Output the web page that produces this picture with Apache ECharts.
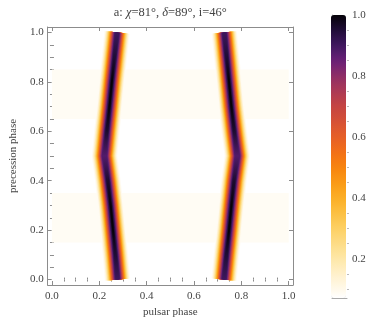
<!DOCTYPE html>
<html>
<head>
<meta charset="utf-8">
<script src="https://cdn.jsdelivr.net/npm/echarts@6/dist/echarts.min.js"></script>
<style>
  html, body {margin: 0; padding: 0; background: #fff;}
  #chart {width: 374px; height: 327px;}
</style>
</head>
<body>
<div id="chart"></div>
<script>
// ridge centres (pulsar phase), per precession phase
const precessionPhase = [0, 0.1, 0.2, 0.3, 0.4, 0.5, 0.6, 0.7, 0.8, 0.9, 1.0];
const ridgeLeft = [0.277, 0.268, 0.258, 0.248, 0.236, 0.222, 0.232, 0.243, 0.253, 0.264, 0.275];
const ridgeRight = [0.727, 0.737, 0.748, 0.758, 0.769, 0.783, 0.770, 0.758, 0.748, 0.738, 0.728];
const ridgePeak = [0.9, 0.95, 1.0, 1.0, 0.96, 0.88, 0.96, 1.0, 1.0, 0.95, 0.9];
// faint background bands (precession phase ranges)
const paleBands = [[0.15, 0.35], [0.65, 0.85]];

const majorTicks = [0, 0.2, 0.4, 0.6, 0.8, 1.0];
const minorTicks = [0.05, 0.1, 0.15, 0.25, 0.3, 0.35, 0.45, 0.5, 0.55, 0.65, 0.7, 0.75, 0.85, 0.9, 0.95];
const colorbarTicks = [0.2, 0.4, 0.6, 0.8, 1.0];
const colorbarMinor = [0.1, 0.15, 0.25, 0.3, 0.35, 0.45, 0.5, 0.55, 0.65, 0.7, 0.75, 0.85, 0.9, 0.95];
const colorMin = 0.072;
const colorMax = 1.0;

const COLOR_STOPS = [
  [0.072, "#ffffff"], [0.1, "#fff9ea"], [0.15, "#fff1cc"], [0.2, "#fee8a8"],
  [0.25, "#fddc86"], [0.3, "#fdd064"], [0.35, "#fcc043"], [0.4, "#fbaf26"],
  [0.45, "#fa9a16"], [0.5, "#f8840f"], [0.55, "#f27018"], [0.6, "#e65f27"],
  [0.65, "#d65236"], [0.7, "#c54542"], [0.75, "#ac3a55"], [0.8, "#8f2e66"],
  [0.85, "#6a2078"], [0.9, "#401860"], [0.95, "#200d38"], [1.0, "#050208"],
];

function hexToRgb(h) {
  return [parseInt(h.slice(1, 3), 16), parseInt(h.slice(3, 5), 16), parseInt(h.slice(5, 7), 16)];
}

function colorAt(v) {
  if (v <= COLOR_STOPS[0][0]) {return COLOR_STOPS[0][1];}
  for (let i = 1; i < COLOR_STOPS.length; i++) {
    if (v <= COLOR_STOPS[i][0]) {
      const [v0, c0] = COLOR_STOPS[i - 1];
      const [v1, c1] = COLOR_STOPS[i];
      const t = (v - v0) / (v1 - v0);
      const a = hexToRgb(c0), b = hexToRgb(c1);
      const rgb = a.map((x, k) => Math.round(x + (b[k] - x) * t));
      return `rgb(${rgb.join(",")})`;
    }
  }
  return COLOR_STOPS[COLOR_STOPS.length - 1][1];
}

const FONT = "Liberation Serif";
const TEXT_COLOR = "#444";
const FRAME_COLOR = "#8c8c8c";
const SIGMA_PX = 5.8;

// ridges are drawn as stacked lines, widest/palest first
function ridgeLayers(centres) {
  const points = precessionPhase.map((y, i) => [centres[i], y]);
  const layers = [];
  for (let v = 0.09; v < 0.985; v += 0.04) {
    const width = 2 * SIGMA_PX * Math.sqrt(2 * Math.log(1 / v));
    let color = colorAt(v);
    if (v > 0.83) {
      color = new echarts.graphic.LinearGradient(0, 0, 0, 1,
        precessionPhase.map((y, i) => ({offset: 1 - y, color: colorAt(Math.min(v, ridgePeak[i]))})).reverse());
    }
    layers.push({width, color});
  }
  layers.push({
    width: 1.8,
    color: new echarts.graphic.LinearGradient(0, 0, 0, 1,
      precessionPhase.map((y, i) => ({offset: 1 - y, color: colorAt(ridgePeak[i])})).reverse()),
  });
  return layers.map(layer => ({
    type: "line",
    xAxisIndex: 0,
    yAxisIndex: 0,
    data: points,
    showSymbol: false,
    silent: true,
    animation: false,
    z: 3,
    lineStyle: {width: layer.width, color: layer.color, cap: "butt", join: "round"},
  }));
}

function tickAxis(extra) {
  return Object.assign({
    type: "value",
    gridIndex: 0,
    splitLine: {show: false},
    axisLine: {show: false},
    axisLabel: {show: false},
  }, extra);
}

const labelStyle = {fontFamily: FONT, fontSize: 11, color: TEXT_COLOR};
const xRange = {min: -0.0182, max: 1.0182};
const yRange = {min: -0.022, max: 1.022};

const xAxes = [
  tickAxis(Object.assign({
    position: "bottom",
    name: "pulsar phase",
    nameLocation: "middle",
    nameGap: 20,
    nameTextStyle: Object.assign({}, labelStyle),
    axisLine: {show: true, onZero: false, lineStyle: {color: FRAME_COLOR, width: 1}},
    axisTick: {inside: true, length: 4, customValues: majorTicks, lineStyle: {color: FRAME_COLOR}},
    axisLabel: Object.assign({show: true, margin: 6, customValues: majorTicks, formatter: v => v.toFixed(1)}, labelStyle),
  }, xRange)),
  tickAxis(Object.assign({position: "bottom",
    axisTick: {inside: true, length: 2, customValues: minorTicks, lineStyle: {color: FRAME_COLOR}}}, xRange)),
  tickAxis(Object.assign({
    position: "top",
    name: "a: {i|\u03c7}=81\u00b0, {i|\u03b4}=89\u00b0, i=46\u00b0",
    nameLocation: "middle",
    nameGap: 8,
    nameTextStyle: Object.assign({}, labelStyle, {fontSize: 12.5, rich: {i: Object.assign({}, labelStyle, {fontSize: 12.5, fontStyle: "italic"})}}),
    axisLine: {show: true, onZero: false, lineStyle: {color: FRAME_COLOR, width: 1}},
    axisTick: {inside: true, length: 4, customValues: majorTicks, lineStyle: {color: FRAME_COLOR}},
  }, xRange)),
  tickAxis(Object.assign({position: "top",
    axisTick: {inside: true, length: 2, customValues: minorTicks, lineStyle: {color: FRAME_COLOR}}}, xRange)),
  {
    type: "value", gridIndex: 1, min: 0, max: 1,
    splitLine: {show: false}, axisTick: {show: false}, axisLabel: {show: false},
    axisLine: {show: true, lineStyle: {color: "#aaa", width: 1}},
  },
];

const yAxes = [
  tickAxis(Object.assign({
    position: "left",
    name: "precession phase",
    nameLocation: "middle",
    nameGap: 18,
    nameTextStyle: Object.assign({}, labelStyle),
    axisLine: {show: true, onZero: false, lineStyle: {color: FRAME_COLOR, width: 1}},
    axisTick: {inside: true, length: 4, customValues: majorTicks, lineStyle: {color: FRAME_COLOR}},
    axisLabel: Object.assign({show: true, margin: 4, customValues: majorTicks, formatter: v => v.toFixed(1)}, labelStyle),
  }, yRange)),
  tickAxis(Object.assign({position: "left",
    axisTick: {inside: true, length: 2, customValues: minorTicks, lineStyle: {color: FRAME_COLOR}}}, yRange)),
  tickAxis(Object.assign({
    position: "right",
    axisLine: {show: true, onZero: false, lineStyle: {color: FRAME_COLOR, width: 1}},
    axisTick: {inside: true, length: 4, customValues: majorTicks, lineStyle: {color: FRAME_COLOR}},
  }, yRange)),
  tickAxis(Object.assign({position: "right",
    axisTick: {inside: true, length: 2, customValues: minorTicks, lineStyle: {color: FRAME_COLOR}}}, yRange)),
  {
    type: "value", gridIndex: 1, position: "right", min: colorMin, max: colorMax,
    splitLine: {show: false},
    axisLine: {show: true, lineStyle: {color: "#aaa", width: 1}},
    axisTick: {length: 4, customValues: colorbarTicks, lineStyle: {color: "#aaa"}},
    axisLabel: Object.assign({margin: 5, customValues: colorbarTicks, formatter: v => v.toFixed(1)}, labelStyle),
  },
  {
    type: "value", gridIndex: 1, position: "right", min: colorMin, max: colorMax,
    splitLine: {show: false}, axisLine: {show: false}, axisLabel: {show: false},
    axisTick: {length: 2, customValues: colorbarMinor, lineStyle: {color: "#bbb"}},
  },
];

const series = [
  {
    type: "line",
    xAxisIndex: 0,
    yAxisIndex: 0,
    data: [],
    silent: true,
    z: 1,
    markArea: {
      silent: true,
      itemStyle: {color: "#fffcf4"},
      data: paleBands.map(([y0, y1]) => [{coord: [0, y0]}, {coord: [1, y1]}]),
    },
  },
  ...ridgeLayers(ridgeLeft),
  ...ridgeLayers(ridgeRight),
  {type: "scatter", xAxisIndex: 4, yAxisIndex: 4, data: [], silent: true},
];

const colorbarColors = [];
for (let k = 0; k <= 40; k++) {
  colorbarColors.push(colorAt(colorMin + (colorMax - colorMin) * k / 40));
}

const chart = echarts.init(document.getElementById("chart"), null, {renderer: "canvas"});
chart.setOption({
  animation: false,
  backgroundColor: "#fff",
  grid: [
    {left: 37, top: 27, width: 256, height: 258},
    {left: 332, top: 15, width: 15, height: 283},
  ],
  xAxis: xAxes,
  yAxis: yAxes,
  visualMap: {
    type: "continuous",
    seriesIndex: series.length - 1,
    min: colorMin,
    max: colorMax,
    calculable: false,
    left: 316,
    top: 0,
    itemWidth: 15,
    itemHeight: 283,
    text: null,
    showLabel: false,
    inRange: {color: colorbarColors},
  },
  series,
});
</script>
</body>
</html>
